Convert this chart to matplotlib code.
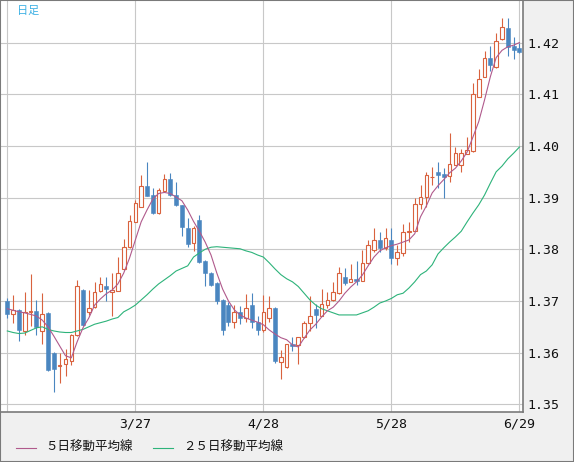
import numpy as np
import matplotlib
matplotlib.use("Agg")
from matplotlib import pyplot as plt
from matplotlib.lines import Line2D
from matplotlib.patches import Rectangle

# daily candles (oldest first)
opens = [1.3700, 1.3674, 1.3683, 1.3641, 1.3679, 1.3681, 1.3641, 1.3676, 1.3600, 1.3574,
         1.3578, 1.3584, 1.3634, 1.3721, 1.3679, 1.3688, 1.3720, 1.3729, 1.3717, 1.3720,
         1.3761, 1.3804, 1.3853, 1.3882, 1.3923, 1.3905, 1.3871, 1.3913, 1.3936, 1.3905,
         1.3885, 1.3842, 1.3813, 1.3856, 1.3777, 1.3755, 1.3735, 1.3701, 1.3692, 1.3659,
         1.3679, 1.3667, 1.3692, 1.3659, 1.3644, 1.3667, 1.3686, 1.3581, 1.3572, 1.3617,
         1.3615, 1.3630, 1.3657, 1.3684, 1.3671, 1.3692, 1.3702, 1.3715, 1.3746, 1.3736,
         1.3743, 1.3739, 1.3773, 1.3799, 1.3818, 1.3803, 1.3818, 1.3783, 1.3792, 1.3834,
         1.3836, 1.3888, 1.3901, 1.3939, 1.3950, 1.3946, 1.3941, 1.3964, 1.3964, 1.3985,
         1.3990, 1.4095, 1.4134, 1.4170, 1.4152, 1.4206, 1.4229, 1.4193, 1.4190]
highs = [1.3706, 1.3712, 1.3685, 1.3718, 1.3752, 1.3701, 1.3715, 1.3679, 1.3602, 1.3600,
         1.3607, 1.3637, 1.3741, 1.3723, 1.3721, 1.3737, 1.3747, 1.3747, 1.3754, 1.3785,
         1.3819, 1.3866, 1.3895, 1.3944, 1.3968, 1.3918, 1.3919, 1.3946, 1.3948, 1.3931,
         1.3886, 1.3861, 1.3845, 1.3867, 1.3780, 1.3756, 1.3736, 1.3703, 1.3698, 1.3692,
         1.3690, 1.3714, 1.3715, 1.3670, 1.3712, 1.3710, 1.3689, 1.3605, 1.3617, 1.3630,
         1.3631, 1.3662, 1.3710, 1.3694, 1.3723, 1.3718, 1.3736, 1.3765, 1.3763, 1.3772,
         1.3777, 1.3799, 1.3818, 1.3841, 1.3834, 1.3841, 1.3841, 1.3808, 1.3849, 1.3852,
         1.3899, 1.3925, 1.3950, 1.3960, 1.3969, 1.3957, 1.4025, 1.3998, 1.3995, 1.4018,
         1.4122, 1.4148, 1.4184, 1.4193, 1.4219, 1.4248, 1.4248, 1.4210, 1.4200]
lows = [1.3667, 1.3658, 1.3623, 1.3634, 1.3652, 1.3634, 1.3616, 1.3565, 1.3524, 1.3541,
        1.3554, 1.3576, 1.3632, 1.3652, 1.3673, 1.3686, 1.3718, 1.3699, 1.3670, 1.3719,
        1.3760, 1.3803, 1.3853, 1.3882, 1.3903, 1.3868, 1.3868, 1.3912, 1.3904, 1.3884,
        1.3825, 1.3804, 1.3797, 1.3774, 1.3729, 1.3729, 1.3694, 1.3634, 1.3652, 1.3648,
        1.3655, 1.3659, 1.3648, 1.3634, 1.3640, 1.3660, 1.3580, 1.3550, 1.3571, 1.3604,
        1.3578, 1.3629, 1.3641, 1.3647, 1.3671, 1.3686, 1.3700, 1.3714, 1.3731, 1.3736,
        1.3730, 1.3738, 1.3772, 1.3795, 1.3795, 1.3799, 1.3772, 1.3770, 1.3787, 1.3815,
        1.3835, 1.3878, 1.3882, 1.3925, 1.3918, 1.3899, 1.3931, 1.3963, 1.3950, 1.3984,
        1.3988, 1.4094, 1.4133, 1.4145, 1.4150, 1.4205, 1.4174, 1.4169, 1.4180]
closes = [1.3674, 1.3683, 1.3644, 1.3678, 1.3681, 1.3650, 1.3674, 1.3566, 1.3568, 1.3576,
          1.3588, 1.3634, 1.3729, 1.3654, 1.3686, 1.3718, 1.3732, 1.3724, 1.3721, 1.3754,
          1.3805, 1.3855, 1.3890, 1.3923, 1.3904, 1.3870, 1.3915, 1.3937, 1.3906, 1.3885,
          1.3843, 1.3811, 1.3842, 1.3775, 1.3754, 1.3731, 1.3699, 1.3644, 1.3659, 1.3679,
          1.3667, 1.3686, 1.3659, 1.3644, 1.3679, 1.3686, 1.3584, 1.3591, 1.3616, 1.3613,
          1.3630, 1.3657, 1.3671, 1.3672, 1.3694, 1.3702, 1.3717, 1.3754, 1.3735, 1.3742,
          1.3739, 1.3773, 1.3808, 1.3818, 1.3803, 1.3822, 1.3783, 1.3794, 1.3833, 1.3835,
          1.3887, 1.3901, 1.3944, 1.3940, 1.3944, 1.3940, 1.3965, 1.3987, 1.3986, 1.3992,
          1.4100, 1.4129, 1.4171, 1.4157, 1.4203, 1.4231, 1.4192, 1.4186, 1.4181]
ma5 = [1.3685, 1.3682, 1.3679, 1.3677, 1.3674, 1.3671, 1.3663, 1.3650, 1.3632, 1.3613,
       1.3594, 1.3590, 1.3621, 1.3648, 1.3667, 1.3692, 1.3704, 1.3714, 1.3721, 1.3733,
       1.3754, 1.3783, 1.3818, 1.3853, 1.3876, 1.3897, 1.3908, 1.3910, 1.3908, 1.3901,
       1.3894, 1.3876, 1.3854, 1.3835, 1.3814, 1.3789, 1.3754, 1.3723, 1.3700, 1.3683,
       1.3673, 1.3667, 1.3663, 1.3659, 1.3654, 1.3644, 1.3636, 1.3629, 1.3625, 1.3615,
       1.3611, 1.3628, 1.3644, 1.3655, 1.3669, 1.3681, 1.3688, 1.3700, 1.3715, 1.3727,
       1.3737, 1.3750, 1.3768, 1.3785, 1.3797, 1.3803, 1.3807, 1.3810, 1.3814, 1.3818,
       1.3830, 1.3863, 1.3884, 1.3909, 1.3923, 1.3935, 1.3948, 1.3957, 1.3971, 1.3988,
       1.4017, 1.4047, 1.4089, 1.4134, 1.4171, 1.4185, 1.4192, 1.4195, 1.4200]
ma25 = [1.3642, 1.3639, 1.3637, 1.3638, 1.3643, 1.3648, 1.3650, 1.3645, 1.3642, 1.3640,
        1.3639, 1.3639, 1.3642, 1.3645, 1.3650, 1.3655, 1.3658, 1.3661, 1.3665, 1.3668,
        1.3679, 1.3685, 1.3692, 1.3702, 1.3712, 1.3723, 1.3733, 1.3741, 1.3749, 1.3758,
        1.3763, 1.3768, 1.3785, 1.3793, 1.3800, 1.3804, 1.3805, 1.3804, 1.3803, 1.3802,
        1.3801, 1.3797, 1.3794, 1.3789, 1.3785, 1.3774, 1.3762, 1.3751, 1.3743, 1.3737,
        1.3728, 1.3715, 1.3702, 1.3692, 1.3685, 1.3681, 1.3677, 1.3673, 1.3673, 1.3673,
        1.3673, 1.3677, 1.3681, 1.3688, 1.3696, 1.3700, 1.3705, 1.3712, 1.3715, 1.3725,
        1.3737, 1.3751, 1.3758, 1.3770, 1.3791, 1.3803, 1.3814, 1.3824, 1.3835, 1.3853,
        1.3870, 1.3886, 1.3905, 1.3928, 1.3950, 1.3961, 1.3975, 1.3986, 1.3998]

tick_idx = [0, 22, 44, 66, 88]
tick_labels = ["", "3/27", "4/28", "5/28", "6/29"]
price_ticks = [1.35, 1.36, 1.37, 1.38, 1.39, 1.40, 1.41, 1.42]

UP = "#d9623e"
DOWN = "#4a86c0"
MA5_C = "#b05a8c"
MA25_C = "#2db37a"
W, H = 574, 462

fig = plt.figure(figsize=(W / 100, H / 100), dpi=100, facecolor="#f0f0f0")
ax = fig.add_axes([0, 49.7 / H, 523 / W, 412.3 / H])
ax.set_facecolor("white")

x = np.arange(len(opens))
o, h, l, c = (np.array(v) for v in (opens, highs, lows, closes))
up = c >= o
lo = np.minimum(o, c)
hi = np.maximum(o, c)

# hollow up candles: wick only outside the body
ax.vlines(x[up], l[up], lo[up], color=UP, lw=0.8, zorder=3)
ax.vlines(x[up], hi[up], h[up], color=UP, lw=0.8, zorder=3)
ax.bar(x[up], hi[up] - lo[up], bottom=lo[up], width=0.62, facecolor="white",
       edgecolor=UP, linewidth=0.8, zorder=4)
ax.vlines(x[~up], l[~up], h[~up], color=DOWN, lw=0.8, zorder=3)
ax.bar(x[~up], hi[~up] - lo[~up], bottom=lo[~up], width=0.7, color=DOWN,
       edgecolor=DOWN, linewidth=0.4, zorder=4)

ax.plot(x, ma25, color=MA25_C, lw=0.8, zorder=5)
ax.plot(x, ma5, color=MA5_C, lw=0.8, zorder=5)

ax.set_xlim(-7.3 / 5.82, (523 - 7.3) / 5.82)
ax.set_ylim(1.34846, 1.42824)
ax.set_xticks(tick_idx)
ax.set_xticklabels(tick_labels)
ax.set_yticks(price_ticks)
ax.set_yticklabels(["%.2f" % p for p in price_ticks])
ax.yaxis.tick_right()
ax.grid(True, color="#c8c8c8", lw=0.8, zorder=0)
ax.set_axisbelow(True)
ax.tick_params(axis="both", length=0, labelsize=9.5, labelcolor="#111111")
ax.tick_params(axis="y", pad=3)
ax.tick_params(axis="x", pad=4)
for t in ax.get_xticklabels() + ax.get_yticklabels():
    t.set_fontfamily("DejaVu Sans Mono")
for s in ax.spines.values():
    s.set_color("#7a7a7a")
    s.set_linewidth(1.2)

fig.add_artist(Rectangle((0, 0), 1, 1, transform=fig.transFigure, fill=False,
                         edgecolor="#7a7a7a", lw=1.5))

jp = ["Noto Sans CJK JP", "DejaVu Sans"]
fig.text(17 / W, 1 - 10.5 / H, "日足", color="#3cb0e4", fontsize=8, family=jp, va="center")

ly = 1 - 447.5 / H
fig.add_artist(Line2D([16 / W, 36 / W], [ly, ly], transform=fig.transFigure, color=MA5_C, lw=0.8))
fig.text(45 / W, ly, "５日移動平均線", fontsize=9, family=jp, va="center", color="#111111")
fig.add_artist(Line2D([153 / W, 173 / W], [ly, ly], transform=fig.transFigure, color=MA25_C, lw=0.8))
fig.text(183 / W, ly, "２５日移動平均線", fontsize=9, family=jp, va="center", color="#111111")

fig.savefig("out.png", dpi=100, facecolor=fig.get_facecolor())
